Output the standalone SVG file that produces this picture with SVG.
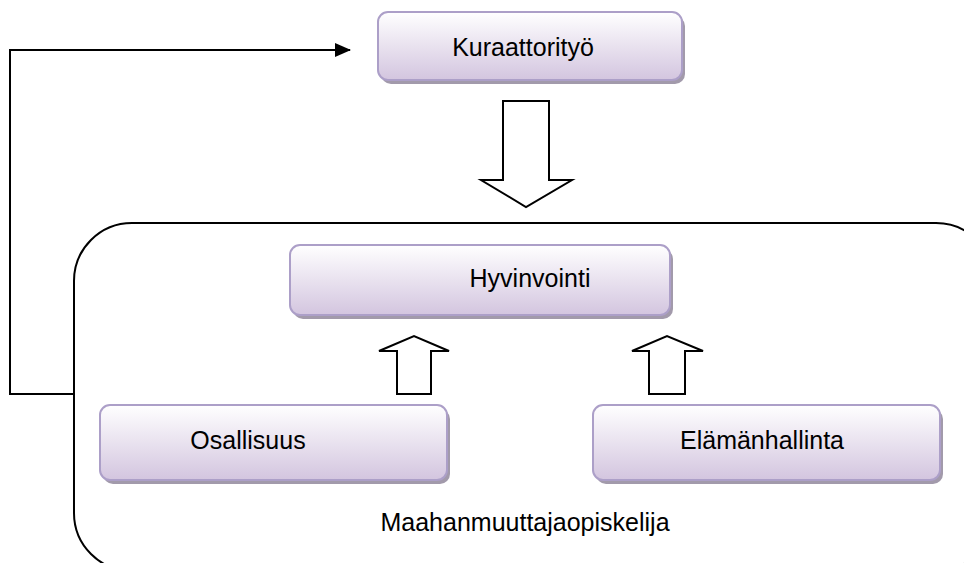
<svg xmlns="http://www.w3.org/2000/svg" width="964" height="563" viewBox="0 0 964 563">
<defs>
<linearGradient id="g" x1="0" y1="0" x2="0" y2="1">
<stop offset="0" stop-color="#ffffff"/>
<stop offset="1" stop-color="#d3c5df"/>
</linearGradient>
<marker id="ah" markerWidth="16" markerHeight="14" refX="15" refY="7" orient="auto" markerUnits="userSpaceOnUse">
<path d="M0,0 L16,7 L0,14 Z" fill="#000"/>
</marker>
</defs>
<style>
.box{fill:url(#g);stroke:#ac9fc8;stroke-width:2}
.sh{fill:#a29aab}
.t{font-family:"Liberation Sans",Arial,sans-serif;font-size:25px;fill:#000;text-anchor:middle}
.ln{fill:none;stroke:#000;stroke-width:2}
.blk{fill:#fff;stroke:#000;stroke-width:2;stroke-linejoin:miter}
</style>
<rect width="964" height="563" fill="#fff"/>
<g id="maahanmuuttajaopiskelija">
<rect x="74" y="223" width="920" height="348" rx="58" ry="58" class="ln"/>
<text x="525" y="531" class="t">Maahanmuuttajaopiskelija</text>
</g>
<g id="connectors">
<polyline points="74,394 10,394 10,50 350,50" class="ln" marker-end="url(#ah)"/>
<polygon points="503,101 549,101 549,180 572,180 526,207 481,180 503,180" class="blk"/>
<polygon points="397,394 431,394 431,351 449,351 414,336 379,351 397,351" class="blk"/>
<polygon points="649,394 685,394 685,351 703,351 667,336 632,351 649,351" class="blk"/>
</g>
<g id="kuraattorityo">
<rect x="381" y="16" width="304" height="68" rx="10" class="sh"/>
<rect x="378" y="12" width="304" height="68" rx="10" class="box"/>
<text x="523" y="56" class="t">Kuraattorityö</text>
</g>
<g id="hyvinvointi">
<rect x="293" y="249" width="380" height="70" rx="10" class="sh"/>
<rect x="290" y="245" width="380" height="70" rx="10" class="box"/>
<text x="530" y="287" class="t">Hyvinvointi</text>
</g>
<g id="osallisuus">
<rect x="103" y="409" width="347" height="75" rx="10" class="sh"/>
<rect x="100" y="405" width="347" height="75" rx="10" class="box"/>
<text x="248" y="449" class="t">Osallisuus</text>
</g>
<g id="elamanhallinta">
<rect x="596" y="409" width="347" height="75" rx="10" class="sh"/>
<rect x="593" y="405" width="347" height="75" rx="10" class="box"/>
<text x="762" y="449" class="t">Elämänhallinta</text>
</g>
</svg>
